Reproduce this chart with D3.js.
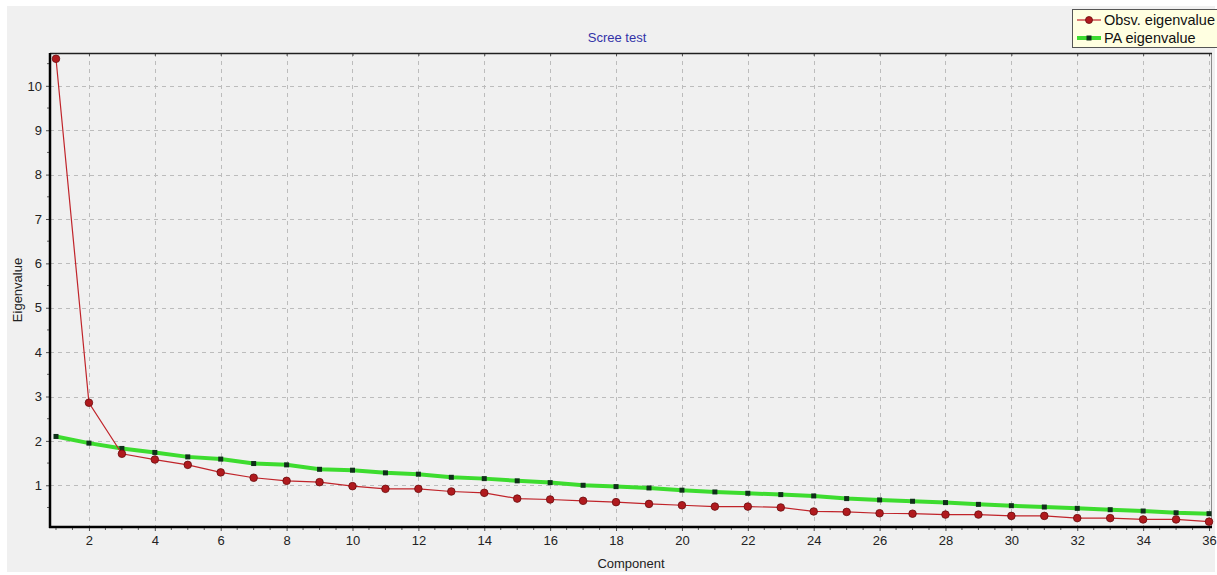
<!DOCTYPE html>
<html>
<head>
<meta charset="utf-8">
<script src="https://cdn.jsdelivr.net/npm/d3@7/dist/d3.min.js"></script>
<style>
  html, body { margin: 0; padding: 0; background: #ffffff; }
  svg { display: block; font-family: "Liberation Sans", Arial, sans-serif; }
</style>
</head>
<body>
<svg id="chart" width="1217" height="575"></svg>
<script>
// Component numbers 1..36
const components = [1,2,3,4,5,6,7,8,9,10,11,12,13,14,15,16,17,18,19,20,21,22,23,24,25,26,27,28,29,30,31,32,33,34,35,36];

// Observed eigenvalues
const observed = [10.61,2.86,1.71,1.58,1.46,1.29,1.17,1.10,1.07,0.98,0.92,0.92,0.86,0.83,0.70,0.68,0.65,0.62,
                  0.58,0.55,0.52,0.52,0.50,0.41,0.40,0.37,0.36,0.34,0.34,0.31,0.31,0.26,0.26,0.23,0.23,0.18];

// Parallel-analysis eigenvalues
const paValues = [2.10,1.95,1.83,1.74,1.64,1.59,1.49,1.46,1.36,1.34,1.28,1.25,1.18,1.15,1.10,1.06,1.00,0.97,
                  0.94,0.89,0.85,0.82,0.79,0.76,0.70,0.67,0.64,0.61,0.57,0.54,0.51,0.48,0.45,0.42,0.38,0.36];

const xTicks = [2,4,6,8,10,12,14,16,18,20,22,24,26,28,30,32,34,36];
const yTicks = [1,2,3,4,5,6,7,8,9,10];
const seriesNames = ["Obsv. eigenvalue", "PA eigenvalue"];

const svg = d3.select("#chart");
const W = 1217, H = 575;
const plot = { left: 50, right: 1212, top: 53, bottom: 527 };
const FONT = "Liberation Sans, Arial, sans-serif";

// Window panel
svg.append("rect").attr("x", 7).attr("y", 6).attr("width", W - 9).attr("height", H - 9)
  .attr("fill", "#f0f0f0");

const x = d3.scaleLinear().domain([0.818, 36.09]).range([plot.left, plot.right]);
const y = d3.scaleLinear().domain([0.06, 10.74]).range([plot.bottom, plot.top]);

// Grid
const grid = svg.append("g").attr("stroke", "#bcbcbc").attr("stroke-width", 1).attr("stroke-dasharray", "4,4");
grid.selectAll("line.vx").data(xTicks).join("line")
  .attr("x1", d => Math.round(x(d)) + 0.5).attr("x2", d => Math.round(x(d)) + 0.5)
  .attr("y1", plot.top).attr("y2", plot.bottom);
grid.selectAll("line.hy").data(yTicks).join("line")
  .attr("x1", plot.left).attr("x2", plot.right)
  .attr("y1", d => Math.round(y(d)) + 0.5).attr("y2", d => Math.round(y(d)) + 0.5);

// Right border
svg.append("line").attr("x1", plot.right - 0.5).attr("x2", plot.right - 0.5)
  .attr("y1", plot.top).attr("y2", plot.bottom).attr("stroke", "#8c8c8c");

// Minor tick values (every 0.5)
const xMinor = d3.range(1, 36.01, 0.5).filter(v => v % 2 !== 0);
const yMinor = d3.range(0.5, 10.6, 0.5).filter(v => v % 1 !== 0);

// Bottom axis
const xAxis = d3.axisBottom(x).tickValues(xTicks).tickSize(4).tickPadding(5).tickFormat(d3.format("d"));
const gx = svg.append("g").attr("transform", `translate(0,${plot.bottom})`).call(xAxis);
gx.select(".domain").remove();
gx.selectAll(".tick line").attr("stroke", "#505050");
gx.selectAll(".tick text").attr("font-size", 13).attr("fill", "#222").attr("font-family", FONT);
svg.append("g").selectAll("line").data(xMinor).join("line")
  .attr("x1", d => x(d)).attr("x2", d => x(d))
  .attr("y1", plot.bottom).attr("y2", plot.bottom + 3).attr("stroke", "#606060");

// Top axis (ticks only)
const gxTop = svg.append("g").attr("transform", `translate(0,${plot.top})`)
  .call(d3.axisBottom(x).tickValues(xTicks).tickSize(3).tickFormat(""));
gxTop.select(".domain").remove();
gxTop.selectAll(".tick line").attr("stroke", "#505050");
svg.append("line").attr("x1", plot.left).attr("x2", plot.right)
  .attr("y1", plot.top + 0.5).attr("y2", plot.top + 0.5).attr("stroke", "#202020").attr("stroke-width", 1.5);

// Left axis
const yAxis = d3.axisLeft(y).tickValues(yTicks).tickSize(4).tickPadding(4).tickFormat(d3.format("d"));
const gy = svg.append("g").attr("transform", `translate(${plot.left},0)`).call(yAxis);
gy.select(".domain").remove();
gy.selectAll(".tick line").attr("stroke", "#505050");
gy.selectAll(".tick text").attr("font-size", 13).attr("fill", "#222").attr("font-family", FONT);
svg.append("g").selectAll("line").data(yMinor).join("line")
  .attr("x1", plot.left - 3).attr("x2", plot.left)
  .attr("y1", d => y(d)).attr("y2", d => y(d)).attr("stroke", "#606060");

// Axis lines
svg.append("line").attr("x1", plot.left).attr("x2", plot.left)
  .attr("y1", plot.top).attr("y2", plot.bottom + 1).attr("stroke", "#000").attr("stroke-width", 2.5);
svg.append("line").attr("x1", plot.left - 1).attr("x2", plot.right)
  .attr("y1", plot.bottom).attr("y2", plot.bottom).attr("stroke", "#000").attr("stroke-width", 2.5);

// Series
const lineGen = d3.line().x((d, i) => x(components[i])).y(d => y(d));

const paColor = "#3ddc2f", obsColor = "#c0242a";

svg.append("path").datum(paValues).attr("d", lineGen)
  .attr("fill", "none").attr("stroke", paColor).attr("stroke-width", 4);
svg.append("g").selectAll("rect").data(paValues).join("rect")
  .attr("x", (d, i) => x(components[i]) - 2.5).attr("y", d => y(d) - 2.5)
  .attr("width", 5).attr("height", 5).attr("fill", "#10301a");

svg.append("path").datum(observed).attr("d", lineGen)
  .attr("fill", "none").attr("stroke", obsColor).attr("stroke-width", 1.2);
svg.append("g").selectAll("circle").data(observed).join("circle")
  .attr("cx", (d, i) => x(components[i])).attr("cy", d => y(d)).attr("r", 3.8)
  .attr("fill", "#b01a1e").attr("stroke", "#6a0c0e").attr("stroke-width", 0.8);

// Title
svg.append("text").attr("x", 617).attr("y", 42).attr("text-anchor", "middle")
  .attr("font-size", 13).attr("fill", "#3333a8").text("Scree test");

// Axis titles
svg.append("text").attr("x", 631).attr("y", 568).attr("text-anchor", "middle")
  .attr("font-size", 13).attr("fill", "#222").text("Component");
svg.append("text").attr("transform", "translate(22,290) rotate(-90)").attr("text-anchor", "middle")
  .attr("font-size", 13).attr("fill", "#222").text("Eigenvalue");

// Legend
const lg = svg.append("g");
lg.append("rect").attr("x", 1072.5).attr("y", 9.5).attr("width", 145).attr("height", 38)
  .attr("fill", "#ffffe1").attr("stroke", "#555").attr("stroke-width", 1);
const legendRows = [
  { name: seriesNames[0], color: obsColor, w: 1.2, marker: "circle", yy: 20 },
  { name: seriesNames[1], color: paColor, w: 4, marker: "square", yy: 38 }
];
legendRows.forEach(r => {
  lg.append("line").attr("x1", 1077).attr("x2", 1101).attr("y1", r.yy).attr("y2", r.yy)
    .attr("stroke", r.color).attr("stroke-width", r.w);
  if (r.marker === "circle") {
    lg.append("circle").attr("cx", 1089).attr("cy", r.yy).attr("r", 3.5)
      .attr("fill", "#b01a1e").attr("stroke", "#6a0c0e").attr("stroke-width", 0.8);
  } else {
    lg.append("rect").attr("x", 1086.5).attr("y", r.yy - 2.5).attr("width", 5).attr("height", 5).attr("fill", "#10301a");
  }
  lg.append("text").attr("x", 1104).attr("y", r.yy + 5).attr("font-size", 14.5).attr("fill", "#111").text(r.name);
});
</script>
</body>
</html>
